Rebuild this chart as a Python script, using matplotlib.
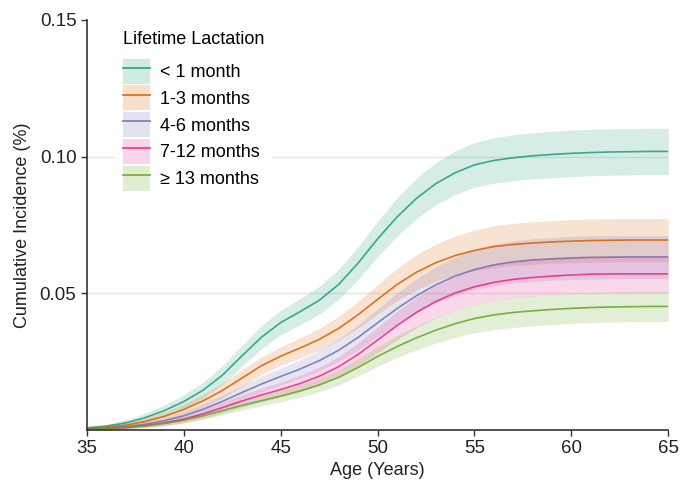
import matplotlib
matplotlib.use("Agg")
import matplotlib.pyplot as plt
from matplotlib.patches import Patch
from matplotlib.lines import Line2D

plt.rcParams['font.family'] = ['Liberation Sans', 'DejaVu Sans']

ages = list(range(35, 66))

labels = ["< 1 month", "1-3 months", "4-6 months", "7-12 months", "\u2265 13 months"]
colors = ["#1b9e77", "#d95f02", "#7570b3", "#e7298a", "#66a61e"]

inc_lt1 = [0.0008, 0.0014, 0.0026, 0.0045, 0.0071, 0.0104, 0.0146, 0.0201, 0.0271, 0.0339,
           0.0393, 0.0433, 0.0475, 0.0533, 0.0611, 0.0699, 0.0779, 0.0847, 0.0901, 0.0941,
           0.0970, 0.0986, 0.0996, 0.1003, 0.1008, 0.1012, 0.1015, 0.1017, 0.1018, 0.1019, 0.1019]
ci_lt1 = [0.0004, 0.0007, 0.0011, 0.0016, 0.0021, 0.0025, 0.0029, 0.0034, 0.0038, 0.0042,
          0.0045, 0.0048, 0.0051, 0.0055, 0.0060, 0.0065, 0.0070, 0.0074, 0.0077, 0.0080,
          0.0082, 0.0083, 0.0084, 0.0084, 0.0085, 0.0085, 0.0085, 0.0085, 0.0085, 0.0085, 0.0085]

inc_1_3 = [0.0006, 0.0010, 0.0018, 0.0031, 0.0050, 0.0075, 0.0107, 0.0145, 0.0190, 0.0235,
           0.0270, 0.0300, 0.0332, 0.0372, 0.0422, 0.0478, 0.0532, 0.0577, 0.0612, 0.0638,
           0.0657, 0.0671, 0.0679, 0.0684, 0.0688, 0.0691, 0.0693, 0.0694, 0.0695, 0.0695, 0.0695]
ci_1_3 = [0.0003, 0.0005, 0.0008, 0.0012, 0.0016, 0.0020, 0.0024, 0.0027, 0.0030, 0.0032,
          0.0034, 0.0037, 0.0040, 0.0044, 0.0049, 0.0054, 0.0059, 0.0064, 0.0068, 0.0071,
          0.0074, 0.0076, 0.0077, 0.0078, 0.0078, 0.0079, 0.0079, 0.0079, 0.0079, 0.0079, 0.0079]

inc_4_6 = [0.0004, 0.0007, 0.0012, 0.0021, 0.0034, 0.0052, 0.0076, 0.0105, 0.0137, 0.0168,
           0.0196, 0.0223, 0.0254, 0.0292, 0.0339, 0.0392, 0.0444, 0.0491, 0.0531, 0.0563,
           0.0587, 0.0604, 0.0615, 0.0622, 0.0626, 0.0629, 0.0631, 0.0632, 0.0633, 0.0633, 0.0633]
ci_4_6 = [0.0002, 0.0004, 0.0006, 0.0009, 0.0012, 0.0016, 0.0020, 0.0023, 0.0026, 0.0029,
          0.0031, 0.0034, 0.0037, 0.0041, 0.0046, 0.0051, 0.0057, 0.0062, 0.0066, 0.0070,
          0.0073, 0.0075, 0.0077, 0.0078, 0.0078, 0.0079, 0.0079, 0.0079, 0.0079, 0.0079, 0.0079]

inc_7_12 = [0.0003, 0.0005, 0.0009, 0.0016, 0.0026, 0.0040, 0.0059, 0.0082, 0.0106, 0.0128,
            0.0148, 0.0170, 0.0197, 0.0232, 0.0277, 0.0329, 0.0382, 0.0430, 0.0470, 0.0501,
            0.0524, 0.0540, 0.0551, 0.0558, 0.0563, 0.0567, 0.0570, 0.0571, 0.0571, 0.0571, 0.0571]
ci_7_12 = [0.0002, 0.0003, 0.0005, 0.0008, 0.0011, 0.0014, 0.0017, 0.0020, 0.0023, 0.0025,
           0.0027, 0.0030, 0.0033, 0.0037, 0.0042, 0.0047, 0.0052, 0.0056, 0.0060, 0.0063,
           0.0065, 0.0066, 0.0067, 0.0068, 0.0068, 0.0068, 0.0068, 0.0068, 0.0068, 0.0068, 0.0068]

inc_ge13 = [0.0003, 0.0005, 0.0009, 0.0015, 0.0024, 0.0036, 0.0052, 0.0071, 0.0090, 0.0107,
            0.0124, 0.0143, 0.0165, 0.0193, 0.0229, 0.0269, 0.0305, 0.0337, 0.0365, 0.0389,
            0.0408, 0.0421, 0.0430, 0.0436, 0.0441, 0.0445, 0.0448, 0.0450, 0.0451, 0.0452, 0.0452]
ci_ge13 = [0.0001, 0.0002, 0.0004, 0.0006, 0.0008, 0.0010, 0.0013, 0.0015, 0.0017, 0.0019,
           0.0021, 0.0023, 0.0025, 0.0028, 0.0032, 0.0036, 0.0040, 0.0044, 0.0047, 0.0050,
           0.0052, 0.0054, 0.0055, 0.0055, 0.0055, 0.0055, 0.0055, 0.0055, 0.0055, 0.0055, 0.0055]

series = [inc_lt1, inc_1_3, inc_4_6, inc_7_12, inc_ge13]
cis = [ci_lt1, ci_1_3, ci_4_6, ci_7_12, ci_ge13]

fig = plt.figure(figsize=(6.84, 4.83), dpi=100)
ax = fig.add_axes([0.127, 0.1097, 0.85, 0.849])

for yv in [0.05, 0.10]:
    ax.axhline(yv, color="#e6e6e6", lw=1.0, zorder=0)

handles = []
for vals, ci, col, lab in zip(series, cis, colors, labels):
    lo = [v - c for v, c in zip(vals, ci)]
    hi = [v + c for v, c in zip(vals, ci)]
    ax.fill_between(ages, lo, hi, color=col, alpha=0.18, lw=0, zorder=1)
    ax.plot(ages, vals, color=col, lw=1.2, alpha=0.85, zorder=2,
            solid_joinstyle="round")
    handles.append((Patch(facecolor=col, alpha=0.2, edgecolor='none'),
                    Line2D([], [], color=col, lw=1.3, alpha=0.85)))

ax.set_xlim(35, 65)
ax.set_ylim(0, 0.15)
ax.set_xticks([35, 40, 45, 50, 55, 60, 65])
ax.set_yticks([0.05, 0.10, 0.15])
ax.set_yticklabels(["0.05", "0.10", "0.15"])
for s in ["top", "right"]:
    ax.spines[s].set_visible(False)
for s in ["left", "bottom"]:
    ax.spines[s].set_color("#333333")
    ax.spines[s].set_linewidth(1.2)
ax.tick_params(axis="both", labelsize=13.5, color="#333333", length=4, width=1.0, colors="#222222")
ax.set_xlabel("Age (Years)", fontsize=13, color="#222222", labelpad=3)
ax.set_ylabel("Cumulative Incidence (%)", fontsize=13, color="#222222", labelpad=6)

leg = ax.legend(handles, labels, title="Lifetime Lactation", loc="upper left",
                bbox_to_anchor=(0.035, 1.013), fontsize=13, title_fontsize=13,
                frameon=True, facecolor="white", edgecolor="none", framealpha=1.0,
                handlelength=1.45, handleheight=1.75, labelspacing=0.1, handletextpad=0.6,
                borderpad=0.4)
leg._legend_box.align = "left"
leg._legend_box.sep = 7.8
leg.set_zorder(5)

fig.savefig("out.png", dpi=100)
